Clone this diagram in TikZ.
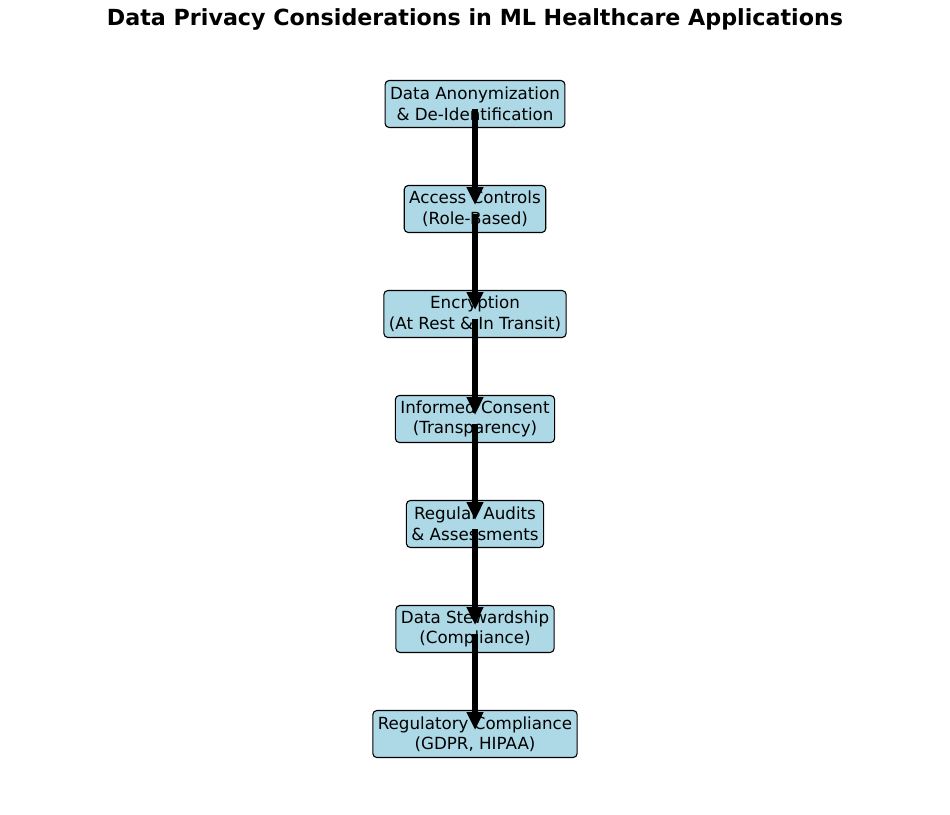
\documentclass[tikz,border=0pt]{standalone}
\usepackage{fontspec}
\setmainfont{DejaVu Sans}
\usetikzlibrary{arrows.meta,calc}
\definecolor{boxblue}{HTML}{ADD8E6}
\begin{document}
\begin{tikzpicture}[x=1pt,y=-1pt,
  box/.style={draw=black, line width=1.1pt, fill=boxblue, rounded corners=4pt,
    align=center, font=\fontsize{16.7}{20.5}\selectfont,
    inner xsep=5pt, inner ysep=0pt, minimum height=47pt},
  flow/.style={line width=6pt, -{Triangle[length=18pt,width=16pt]}}]
\useasboundingbox (0,0) rectangle (950,814);
\node[font=\bfseries\fontsize{22.2}{26}\selectfont] (title) at (475,19) {Data Privacy Considerations in ML Healthcare Applications};
\node[box] (n1) at (475,104) {Data Anonymization\\\& De-Identification};
\node[box] (n2) at (475,209) {Access Controls\\(Role-Based)};
\node[box] (n3) at (475,314) {Encryption\\(At Rest \& In Transit)};
\node[box] (n4) at (475,419) {Informed Consent\\(Transparency)};
\node[box] (n5) at (475,524) {Regular Audits\\\& Assessments};
\node[box] (n6) at (475,629) {Data Stewardship\\(Compliance)};
\node[box] (n7) at (475,734) {Regulatory Compliance\\(GDPR, HIPAA)};
\foreach \a/\b in {n1/n2,n2/n3,n3/n4,n4/n5,n5/n6,n6/n7}
  \draw[flow] ($(\a.center)+(0,5)$) -- ($(\b.center)+(0,-4)$);
\end{tikzpicture}
\end{document}
